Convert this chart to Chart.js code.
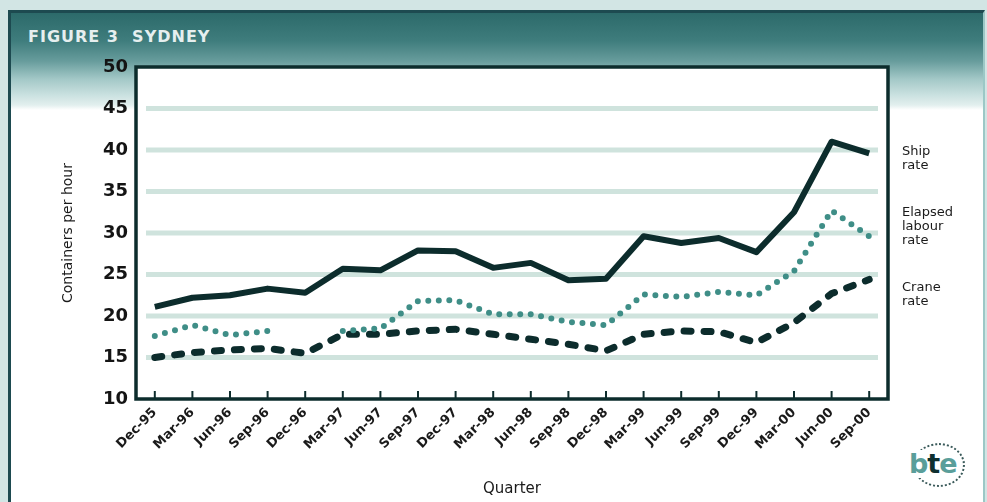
<!DOCTYPE html>
<html>
<head>
<meta charset="utf-8">
<script src="https://cdn.jsdelivr.net/npm/chart.js@4"></script>
<style>
  html, body { margin: 0; padding: 0; }
  body { width: 987px; height: 502px; background: #d2e5e4; position: relative; overflow: hidden; }
  .panel {
    position: absolute; left: 8px; top: 10px; width: 972px; height: 500px;
    border-left: 3px solid #1d4a50; border-top: 3px solid #1d4a50; border-right: 2px solid #9cc8c6;
    background: linear-gradient(to bottom, #2c6a6a 0px, #3f7d7d 28px, #679c9c 48px, #a3c8c7 66px, #cae1e0 82px, #e2efee 92px, #ffffff 97px);
  }
  .titre {
    position: absolute; left: 28px; top: 27px; color: #e6efef;
    font: bold 16px "DejaVu Sans", sans-serif; letter-spacing: 1px; white-space: pre;
  }
  .logo {
    position: absolute; left: 913px; top: 443px; width: 52px; height: 44px;
    border: 2px dotted #3a5a5a; border-radius: 50%; box-sizing: border-box;
  }
  .logo span.t { position: absolute; left: -6px; top: 5px; font: bold 27px "DejaVu Sans", sans-serif; color: #5a9e9a; letter-spacing: -1px; background: #fff; line-height: 28px; }
  .logo b { color: #0e3030; }
  canvas { position: absolute; left: 0; top: 0; }
</style>
</head>
<body>
<div class="panel"></div>
<div class="titre">FIGURE 3  SYDNEY</div>
<div class="logo"><span class="t">b<b>t</b>e</span></div>
<canvas id="grafica" width="987" height="502"></canvas>
<script>
const trimestres = ['Dec-95', 'Mar-96', 'Jun-96', 'Sep-96', 'Dec-96', 'Mar-97', 'Jun-97', 'Sep-97', 'Dec-97', 'Mar-98',
  'Jun-98', 'Sep-98', 'Dec-98', 'Mar-99', 'Jun-99', 'Sep-99', 'Dec-99', 'Mar-00', 'Jun-00', 'Sep-00']

const shipRate = [21.1, 22.2, 22.5, 23.3, 22.8, 25.7, 25.5, 27.9, 27.8, 25.8,
  26.4, 24.3, 24.5, 29.6, 28.8, 29.4, 27.7, 32.5, 41.0, 39.6]
const elapsedRate = [17.6, 18.9, 17.7, 18.2, null, 18.2, 18.5, 21.8, 21.9, 20.2,
  20.2, 19.3, 18.9, 22.6, 22.3, 22.9, 22.5, 25.4, 32.7, 29.6]
const craneRate = [15.0, 15.6, 15.9, 16.1, 15.5, 17.8, 17.8, 18.2, 18.4, 17.8,
  17.2, 16.6, 15.8, 17.8, 18.2, 18.1, 16.8, 19.2, 22.7, 24.4]

const yTicks = [10, 15, 20, 25, 30, 35, 40, 45, 50]
const etiquetas = [
  { lineas: ['Ship', 'rate'], valor: 39.0 },
  { lineas: ['Elapsed', 'labour', 'rate'], valor: 30.8 },
  { lineas: ['Crane', 'rate'], valor: 22.6 }
]

const oscuro = '#0c2c2c'
const verde = '#3f8e87'

// fondo blanco, lineas de rejilla, marco, marcas del eje x y textos a la derecha
const marco = {
  id: 'marco',
  beforeDatasetsDraw(chart) {
    const { ctx, chartArea: a, scales } = chart
    ctx.save()
    ctx.fillStyle = '#ffffff'
    ctx.fillRect(a.left, a.top, a.right - a.left, a.bottom - a.top)
    ctx.strokeStyle = '#cfe3dd'
    ctx.lineWidth = 5
    yTicks.slice(1, -1).forEach(v => {
      const y = scales.y.getPixelForValue(v)
      ctx.beginPath()
      ctx.moveTo(a.left + 10, y)
      ctx.lineTo(a.right - 10, y)
      ctx.stroke()
    })
    ctx.restore()
  },
  afterDatasetsDraw(chart) {
    const { ctx, chartArea: a, scales } = chart
    ctx.save()
    ctx.strokeStyle = oscuro
    ctx.lineWidth = 2
    trimestres.forEach((t, i) => {
      const x = scales.x.getPixelForValue(i)
      ctx.beginPath()
      ctx.moveTo(x, a.bottom)
      ctx.lineTo(x, a.bottom - 8)
      ctx.stroke()
    })
    ctx.lineWidth = 3.5
    ctx.strokeRect(a.left, a.top, a.right - a.left, a.bottom - a.top)

    ctx.fillStyle = '#1a1a1a'
    ctx.font = '13px "DejaVu Sans"'
    ctx.textBaseline = 'middle'
    etiquetas.forEach(e => {
      const yc = scales.y.getPixelForValue(e.valor)
      const y0 = yc - (e.lineas.length - 1) * 7
      e.lineas.forEach((l, k) => ctx.fillText(l, a.right + 14, y0 + k * 14))
    })
    ctx.restore()
  }
}

new Chart(document.getElementById('grafica'), {
  type: 'line',
  data: {
    labels: trimestres,
    datasets: [
      {
        label: 'Ship rate',
        data: shipRate,
        borderColor: oscuro,
        borderWidth: 6,
        borderJoinStyle: 'round',
        pointRadius: 0,
        tension: 0
      },
      {
        label: 'Elapsed labour rate',
        data: elapsedRate,
        borderColor: verde,
        borderWidth: 6,
        borderDash: [0, 10.5],
        borderCapStyle: 'round',
        pointRadius: 0,
        spanGaps: false,
        tension: 0
      },
      {
        label: 'Crane rate',
        data: craneRate,
        borderColor: oscuro,
        borderWidth: 7,
        borderDash: [7, 13],
        borderCapStyle: 'round',
        pointRadius: 0,
        tension: 0
      }
    ]
  },
  options: {
    responsive: false,
    animation: false,
    layout: { padding: { left: 56, right: 99, top: 67, bottom: 0 } },
    plugins: { legend: { display: false }, tooltip: { enabled: false } },
    scales: {
      x: {
        offset: true,
        grid: { display: false, drawTicks: false },
        border: { display: false },
        ticks: {
          minRotation: 45, maxRotation: 45, padding: 6,
          color: '#1a1a1a',
          font: { family: 'DejaVu Sans', size: 13, weight: 'bold' }
        },
        title: {
          display: true, text: 'Quarter', color: '#1a1a1a',
          font: { family: 'DejaVu Sans', size: 15 }, padding: { top: 0, bottom: 4 }
        },
        afterFit: s => { s.height = 103 }
      },
      y: {
        min: 10, max: 50,
        afterBuildTicks: s => { s.ticks = yTicks.map(v => ({ value: v })) },
        grid: { display: false, drawTicks: false },
        border: { display: false },
        ticks: {
          padding: 8, color: '#141414',
          font: { family: 'DejaVu Sans', size: 18, weight: 'bold' }
        },
        title: {
          display: true, text: 'Containers per hour', color: '#1a1a1a',
          font: { family: 'DejaVu Sans', size: 14 }, padding: { top: 4, bottom: 0 }
        },
        afterFit: s => { s.width = 80 }
      }
    }
  },
  plugins: [marco]
})
</script>
</body>
</html>
